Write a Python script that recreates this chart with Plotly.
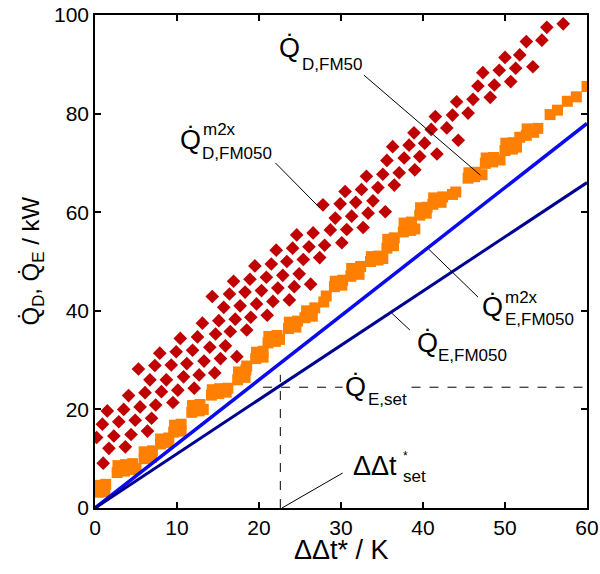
import plotly.graph_objects as go

# ---- data ----
line_x = [0, 60]
qd_fm50 = [0, 78]
qe_fm050 = [0, 66]

orange_x = [0.4, 1.2, 0.5, 1.3,
            2.7, 3.6, 4.5, 5.0, 2.8, 3.7, 4.6,
            6.0, 6.9, 6.0, 7.0,
            8.0, 8.9, 8.0, 9.0,
            9.6, 10.5, 9.7, 10.5,
            11.8, 12.7, 13.2, 11.9, 12.8,
            14.2, 15.1, 16.0, 14.3, 15.2, 16.2,
            17.4, 18.3, 17.5, 18.4, 18.5,
            19.6, 20.5, 19.7, 20.5,
            21.1, 22.0, 22.5, 21.2, 22.2,
            23.6, 24.5, 23.7, 24.7,
            25.6, 26.5, 25.8, 26.8,
            27.9, 28.2,
            29.2, 30.1, 29.3, 30.2,
            31.2, 32.2, 31.3, 32.4,
            33.6, 34.5, 35.1, 33.7, 34.6,
            35.6, 36.4, 35.7, 36.5,
            37.6, 38.5, 39.0, 37.7, 38.6,
            39.6, 40.4, 39.7, 40.5,
            41.2, 42.2, 41.3, 42.4,
            43.6, 44.0,
            45.5, 46.3, 47.2, 45.6, 46.4,
            47.6, 48.5, 49.4, 47.7, 48.6,
            50.0, 50.9, 51.4, 50.1, 51.0,
            51.8, 52.6, 53.5, 54.0, 52.7,
            55.5, 56.4,
            57.6, 58.7,
            60.0]
orange_y = [3.2, 3.3, 4.6, 4.8,
            7.2, 7.5, 7.8, 8.0, 8.6, 8.8, 9.0,
            10.0, 10.3, 11.4, 11.6,
            13.0, 13.3, 14.0, 14.2,
            15.4, 15.6, 16.8, 17.0,
            19.4, 19.7, 20.0, 20.8, 21.0,
            22.9, 23.2, 23.5, 24.0, 24.2, 24.3,
            26.0, 26.5, 27.6, 28.0, 28.8,
            30.3, 30.6, 31.6, 31.8,
            33.5, 33.8, 34.2, 34.8, 35.0,
            36.4, 36.7, 37.7, 37.9,
            38.6, 38.9, 40.0, 40.6,
            41.8, 43.0,
            44.9, 45.2, 46.0, 46.2,
            47.0, 47.4, 48.6, 49.0,
            50.0, 50.3, 50.6, 51.0, 51.1,
            52.7, 53.2, 54.5, 54.8,
            56.0, 56.3, 56.6, 57.8, 58.0,
            59.4, 59.8, 60.9, 61.0,
            61.6, 62.0, 62.9, 63.1,
            63.6, 64.1,
            66.9, 67.2, 67.6, 68.0, 68.1,
            69.9, 70.2, 70.6, 71.0, 71.1,
            72.5, 72.8, 73.2, 74.0, 74.1,
            75.2, 75.6, 76.2, 77.0, 76.9,
            79.8, 80.7,
            82.5, 83.4,
            85.5]

dia_x = [1.0, 1.7, 3.7,
         0.2, 2.3, 4.4, 6.4,
         0.9, 2.9, 4.9, 6.9,
         1.5, 3.5, 5.5, 7.4, 9.5,
         4.1, 6.1, 8.1, 10.1, 12.1,
         6.7, 8.7, 10.8, 12.7, 14.6,
         5.3, 7.3, 9.3, 11.2, 13.3, 15.3, 17.3,
         7.9, 9.9, 11.9, 14.0, 15.9,
         10.4, 12.5, 14.7, 16.5, 18.5,
         13.1, 15.1, 17.1, 19.0, 21.0,
         15.7, 17.7, 19.7, 21.7, 23.7,
         14.3, 16.4, 18.3, 20.3, 22.3, 24.3, 26.3,
         16.9, 18.9, 20.9, 22.9, 24.9,
         19.5, 21.5, 23.4, 25.4, 27.4,
         22.1, 24.1, 26.1, 28.0, 30.1,
         24.6, 26.6, 28.7, 30.7, 32.7,
         29.3, 31.3, 33.3, 35.4,
         27.8, 29.9, 31.8, 33.9,
         30.5, 32.5, 34.5, 36.5,
         33.1, 35.1, 37.1, 39.0,
         35.6, 37.7, 39.6, 41.7,
         36.3, 38.3, 40.2, 44.3,
         38.9, 41.0, 42.9,
         41.5, 43.6, 45.5,
         44.1, 46.1, 48.2,
         46.7, 48.7, 50.7,
         47.3, 49.3, 51.3, 53.4,
         50.0, 51.8,
         52.6, 54.5,
         55.1, 57.1]
dia_y = [9.1, 12.1, 12.4,
         14.3, 14.6, 14.9, 15.6,
         17.0, 17.5, 17.8, 18.2,
         19.7, 20.0, 20.5, 20.9, 21.4,
         22.8, 23.4, 23.6, 23.9, 24.3,
         26.0, 26.0, 26.6, 27.0, 27.4,
         28.2, 28.9, 29.0, 29.3, 29.8, 30.3, 30.7,
         31.4, 31.7, 32.0, 32.6, 32.9,
         34.4, 34.7, 35.3, 35.8, 36.1,
         37.5, 38.0, 38.3, 38.7, 39.1,
         40.7, 41.0, 41.4, 41.9, 42.2,
         42.9, 43.4, 43.8, 44.1, 44.6, 44.9, 45.4,
         46.0, 46.4, 46.8, 47.2, 47.5,
         49.1, 49.5, 50.0, 50.4, 50.8,
         52.3, 52.7, 53.0, 53.3, 53.8,
         55.4, 55.8, 56.4, 56.5, 56.9,
         58.8, 59.2, 59.8, 60.1,
         61.5, 61.7, 62.0, 62.3,
         64.2, 64.6, 65.0, 65.5,
         67.3, 67.7, 68.0, 68.6,
         70.5, 71.0, 71.3, 71.8,
         73.3, 73.6, 74.0, 74.6,
         76.1, 76.8, 77.1,
         79.4, 79.7, 80.1,
         82.4, 82.9, 83.3,
         85.6, 85.8, 86.5,
         88.3, 88.8, 89.2, 89.5,
         91.4, 91.9,
         94.6, 94.9,
         97.5, 98.2]

qe_set = 24.5
dt_set = 22.6
hdash1_x = [20.5, 30.2]
hdash2_x = [38.6, 60.0]
vdash_y = [0, 27.0]

leader_d_fm50 = ([32.8, 47.0], [87.8, 67.5])
leader_d_m2x = ([22.0, 27.4], [70.0, 60.9])
leader_e_m2x = ([40.7, 46.7], [52.5, 42.8])
leader_e_fm050 = ([36.2, 38.4], [39.5, 36.1])
leader_dt = ([22.8, 30.2], [0.0, 7.1])

x_ticks = [0, 10, 20, 30, 40, 50, 60]
y_ticks = [0, 20, 40, 60, 80, 100]

FONT = "Liberation Sans, Arial, sans-serif"
Q = "Q\u0307"

fig = go.Figure()

fig.add_trace(go.Scatter(x=dia_x, y=dia_y, mode="markers",
                         marker=dict(symbol="diamond", size=10.5, color="#C00000", line=dict(width=0))))
fig.add_trace(go.Scatter(x=orange_x, y=orange_y, mode="markers",
                         marker=dict(symbol="square", size=11, color="#FF8000", line=dict(width=0))))
fig.add_trace(go.Scatter(x=line_x, y=qd_fm50, mode="lines", line=dict(color="#0A0AF0", width=3.5)))
fig.add_trace(go.Scatter(x=line_x, y=qe_fm050, mode="lines", line=dict(color="#000090", width=3)))

dash = dict(color="black", width=1, dash="dash")
fig.add_trace(go.Scatter(x=hdash1_x, y=[qe_set, qe_set], mode="lines", line=dash))
fig.add_trace(go.Scatter(x=hdash2_x, y=[qe_set, qe_set], mode="lines", line=dash))
fig.add_trace(go.Scatter(x=[dt_set, dt_set], y=vdash_y, mode="lines", line=dash))

for lx, ly in [leader_d_fm50, leader_d_m2x, leader_e_m2x, leader_e_fm050, leader_dt]:
    fig.add_trace(go.Scatter(x=lx, y=ly, mode="lines", line=dict(color="black", width=1)))

big = 27
small = 17


def ann(x, y, text, size, xanchor="left"):
    fig.add_annotation(x=x, y=y, xref="x", yref="y", text=text, showarrow=False,
                       font=dict(family=FONT, size=size, color="black"),
                       xanchor=xanchor, yanchor="middle")


# Q_D,FM50
ann(23.7, 93.3, Q, big, "center")
ann(25.0, 90.0, "D,FM50", small)
# Q^m2x_D,FM050
ann(11.6, 74.6, Q, big, "center")
ann(12.9, 76.8, "m2x", small)
ann(12.8, 72.0, "D,FM050", small)
# Q^m2x_E,FM050
ann(48.5, 40.8, Q, big, "center")
ann(49.8, 42.8, "m2x", small)
ann(49.8, 38.3, "E,FM050", small)
# Q_E,FM050
ann(40.5, 33.5, Q, big, "center")
ann(41.6, 31.0, "E,FM050", small)
# Q_E,set
ann(31.8, 24.6, Q, big, "center")
ann(33.0, 22.0, "E,set", small)
# ΔΔt*_set
ann(31.2, 8.6, "ΔΔt", big)
ann(37.3, 10.5, "*", 12)
ann(37.3, 6.3, "set", small)

# axis titles
fig.add_annotation(x=-0.128, y=0.5, xref="paper", yref="paper", textangle=-90,
                   text=Q + "<sub>D</sub>, " + Q + "<sub>E</sub> / kW", showarrow=False,
                   font=dict(family=FONT, size=24, color="black"),
                   xanchor="center", yanchor="middle")
fig.add_annotation(x=0.5, y=-0.085, xref="paper", yref="paper",
                   text="ΔΔt* / K", showarrow=False,
                   font=dict(family=FONT, size=27, color="black"),
                   xanchor="center", yanchor="middle")

axis_common = dict(showgrid=False, zeroline=False, showline=True, linecolor="black",
                   linewidth=1.5, mirror="ticks", ticks="inside", ticklen=6,
                   tickwidth=1.5, tickcolor="black", automargin=False,
                   tickfont=dict(family=FONT, size=21, color="black"))

fig.update_xaxes(range=[0, 60], tickvals=x_ticks, ticktext=[str(v) for v in x_ticks], **axis_common)
fig.update_yaxes(range=[0, 100], tickvals=y_ticks, ticktext=[str(v) for v in y_ticks], **axis_common)

fig.update_layout(width=600, height=574, showlegend=False,
                  margin=dict(l=95, r=13, t=15, b=66, autoexpand=False),
                  plot_bgcolor="white", paper_bgcolor="white",
                  font=dict(family=FONT))

fig.write_html("out.html")
